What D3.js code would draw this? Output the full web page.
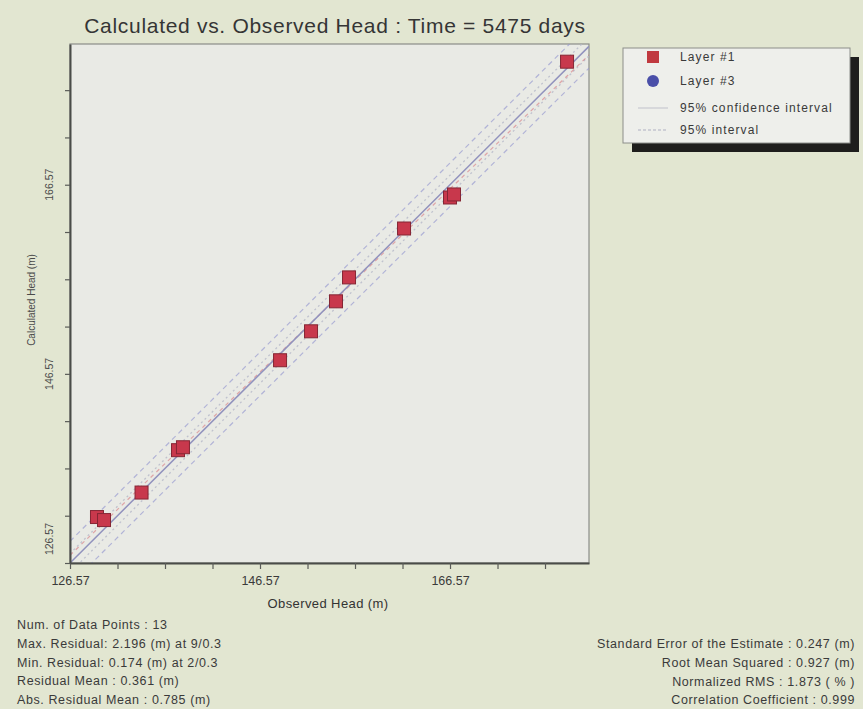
<!DOCTYPE html>
<html>
<head>
<meta charset="utf-8">
<script src="https://cdn.jsdelivr.net/npm/d3@7"></script>
<style>
  html, body { margin: 0; padding: 0; background: #e2e6d1; }
  svg { display: block; font-family: "Liberation Sans", Arial, sans-serif; }
</style>
</head>
<body>
<svg id="chart" width="863" height="709"></svg>
<script>
// Observed vs calculated head (m), Layer #1 wells
const observedL1 = [129.41, 130.15, 134.10, 137.94, 138.46, 148.68, 151.94, 154.57, 155.94, 161.73, 166.57, 166.99, 178.89];
const calculatedL1 = [131.43, 131.11, 134.02, 138.50, 138.81, 148.01, 151.07, 154.24, 156.77, 161.94, 165.22, 165.54, 179.58];
// Layer #3 has no observation wells at this time
const observedL3 = [];
const calculatedL3 = [];

const axisMin = 126.57;
const xMax = 181.2;
const yMax = 181.45;
const majorTicks = [126.57, 146.57, 166.57];
const minorStep = 5;

// Half-widths (m) of the interval bands around the 1:1 line
const confidenceHalf = 1.0;
const intervalHalf = 2.3;

const titleText = "Calculated vs. Observed Head : Time = 5475 days";
const xLabel = "Observed Head (m)";
const yLabel = "Calculated Head (m)";
const legendLabels = ["Layer #1", "Layer #3", "95% confidence interval", "95% interval"];
const statsLeft = [
  "Num. of Data Points : 13",
  "Max. Residual: 2.196 (m) at 9/0.3",
  "Min. Residual: 0.174 (m) at 2/0.3",
  "Residual Mean : 0.361 (m)",
  "Abs. Residual Mean : 0.785 (m)"
];
const statsRight = [
  "Standard Error of the Estimate : 0.247 (m)",
  "Root Mean Squared : 0.927 (m)",
  "Normalized RMS : 1.873 ( % )",
  "Correlation Coefficient : 0.999"
];

const svg = d3.select("#chart");
const plot = { left: 70, right: 589, top: 44, bottom: 563 };

const x = d3.scaleLinear().domain([axisMin, xMax]).range([plot.left, plot.right]);
const y = d3.scaleLinear().domain([axisMin, yMax]).range([plot.bottom, plot.top]);

// plot background and frame
svg.append("rect")
  .attr("x", plot.left).attr("y", plot.top)
  .attr("width", plot.right - plot.left).attr("height", plot.bottom - plot.top)
  .attr("fill", "#e9eae5").attr("stroke", "#8a8c88").attr("stroke-width", 1.2);

svg.append("clipPath").attr("id", "plotclip")
  .append("rect")
  .attr("x", plot.left).attr("y", plot.top)
  .attr("width", plot.right - plot.left).attr("height", plot.bottom - plot.top);

const g = svg.append("g").attr("clip-path", "url(#plotclip)");

const lineEnds = [axisMin, xMax];
const line = d3.line().x(d => x(d[0])).y(d => y(d[1]));

function band(offset, stroke, dash, width, opacity) {
  g.append("path")
    .datum(lineEnds.map(v => [v, v + offset]))
    .attr("d", line)
    .attr("fill", "none")
    .attr("stroke", stroke)
    .attr("stroke-width", width)
    .attr("stroke-dasharray", dash)
    .attr("opacity", opacity);
}

// 95% interval (outer dashed)
band(intervalHalf, "#9397d0", "5,4", 1.2, 0.65);
band(-intervalHalf, "#9397d0", "5,4", 1.2, 0.65);
// 95% confidence interval (inner dotted)
band(confidenceHalf, "#b5b8c8", "2,3", 1.3, 0.8);
band(-confidenceHalf, "#b5b8c8", "2,3", 1.3, 0.8);

// least-squares fit of the observations
const mx = d3.mean(observedL1), my = d3.mean(calculatedL1);
const slope = d3.sum(observedL1.map((o, i) => (o - mx) * (calculatedL1[i] - my))) /
              d3.sum(observedL1.map(o => (o - mx) * (o - mx)));
const intercept = my - slope * mx;
g.append("path")
  .datum(lineEnds.map(v => [v, intercept + slope * v]))
  .attr("d", line)
  .attr("fill", "none")
  .attr("stroke", "#d2505a")
  .attr("stroke-width", 1.2)
  .attr("stroke-dasharray", "4,4")
  .attr("opacity", 0.45);

// 1:1 line
g.append("path")
  .datum(lineEnds.map(v => [v, v]))
  .attr("d", line)
  .attr("fill", "none")
  .attr("stroke", "#9192bd")
  .attr("stroke-width", 1.5);

// axes
const tickVals = d3.range(axisMin, xMax + 0.001, minorStep);
const fmt = v => majorTicks.some(m => Math.abs(m - v) < 1e-6) ? d3.format(".2f")(v) : "";

const xAxis = svg.append("g")
  .attr("transform", `translate(0,${plot.bottom})`)
  .call(d3.axisBottom(x).tickValues(tickVals).tickFormat(fmt).tickSize(6).tickSizeOuter(0));
const yTickVals = d3.range(axisMin, yMax + 0.001, minorStep);
const yAxis = svg.append("g")
  .attr("transform", `translate(${plot.left},0)`)
  .call(d3.axisLeft(y).tickValues(yTickVals).tickFormat("").tickSize(5).tickSizeOuter(0));

[xAxis, yAxis].forEach(a => {
  a.select(".domain").attr("stroke", "#4a4c48").attr("stroke-width", 2);
  a.selectAll(".tick line").attr("stroke", "#5a5c58").attr("stroke-width", 1.2);
});
xAxis.selectAll(".tick text")
  .attr("font-size", 12.5).attr("fill", "#3a3a3a").attr("dy", "1.05em")
  .attr("font-family", "Liberation Sans, Arial, sans-serif");

// rotated y tick labels
svg.append("g").selectAll("text")
  .data(majorTicks)
  .join("text")
  .attr("transform", d => `translate(53,${Math.min(y(d), plot.bottom - 24)}) rotate(-90)`)
  .attr("text-anchor", "middle")
  .attr("font-size", 10.5)
  .attr("fill", "#4a4a4a")
  .text(d => d3.format(".2f")(d));

// axis titles
svg.append("text")
  .attr("x", 328).attr("y", 608)
  .attr("text-anchor", "middle")
  .attr("font-size", 13).attr("letter-spacing", 0.4).attr("fill", "#333")
  .text(xLabel);
svg.append("text")
  .attr("transform", `translate(35,300) rotate(-90)`)
  .attr("text-anchor", "middle")
  .attr("font-size", 10).attr("fill", "#4a4a4a")
  .text(yLabel);

// chart title
svg.append("text")
  .attr("x", 335).attr("y", 33)
  .attr("text-anchor", "middle")
  .attr("font-size", 21).attr("letter-spacing", 0.7).attr("fill", "#353535")
  .text(titleText);

// points
const size = 13;
g.selectAll("rect.l1")
  .data(observedL1.map((o, i) => [o, calculatedL1[i]]))
  .join("rect")
  .attr("class", "l1")
  .attr("x", d => x(d[0]) - size / 2)
  .attr("y", d => y(d[1]) - size / 2)
  .attr("width", size).attr("height", size)
  .attr("fill", "#c8384c")
  .attr("stroke", "#852634")
  .attr("stroke-width", 1);
g.selectAll("circle.l3")
  .data(observedL3.map((o, i) => [o, calculatedL3[i]]))
  .join("circle")
  .attr("class", "l3")
  .attr("cx", d => x(d[0])).attr("cy", d => y(d[1])).attr("r", 6)
  .attr("fill", "#4a50a8");

// legend
const lg = svg.append("g");
lg.append("rect").attr("x", 632).attr("y", 57).attr("width", 227).attr("height", 95).attr("fill", "#1e1e1c");
lg.append("rect").attr("x", 623).attr("y", 48).attr("width", 227).attr("height", 95)
  .attr("fill", "#eeefeb").attr("stroke", "#8c8e8a").attr("stroke-width", 1);
const rows = [57, 81, 108, 130];
lg.append("rect").attr("x", 647).attr("y", rows[0] - 6).attr("width", 12).attr("height", 12)
  .attr("fill", "#c0393f");
lg.append("circle").attr("cx", 653).attr("cy", rows[1]).attr("r", 6).attr("fill", "#4a4fa8");
lg.append("line").attr("x1", 638).attr("x2", 668).attr("y1", rows[2]).attr("y2", rows[2])
  .attr("stroke", "#cfd0d6").attr("stroke-width", 1.5);
lg.append("line").attr("x1", 638).attr("x2", 668).attr("y1", rows[3]).attr("y2", rows[3])
  .attr("stroke", "#c3c5d0").attr("stroke-width", 1.5).attr("stroke-dasharray", "3,2");
lg.selectAll("text.lab")
  .data(legendLabels)
  .join("text")
  .attr("class", "lab")
  .attr("x", 680).attr("y", (d, i) => rows[i] + 4)
  .attr("font-size", 12).attr("letter-spacing", 1.1).attr("fill", "#3a3a3a")
  .text(d => d);

// statistics
svg.append("g").selectAll("text")
  .data(statsLeft)
  .join("text")
  .attr("x", 17).attr("y", (d, i) => 629 + i * 18.8)
  .attr("font-size", 12.5).attr("letter-spacing", 0.6).attr("fill", "#3a3a3a")
  .text(d => d);
svg.append("g").selectAll("text")
  .data(statsRight)
  .join("text")
  .attr("x", 855).attr("y", (d, i) => 648 + i * 18.8)
  .attr("text-anchor", "end")
  .attr("font-size", 12.5).attr("letter-spacing", 0.6).attr("fill", "#3a3a3a")
  .text(d => d);
</script>
</body>
</html>
